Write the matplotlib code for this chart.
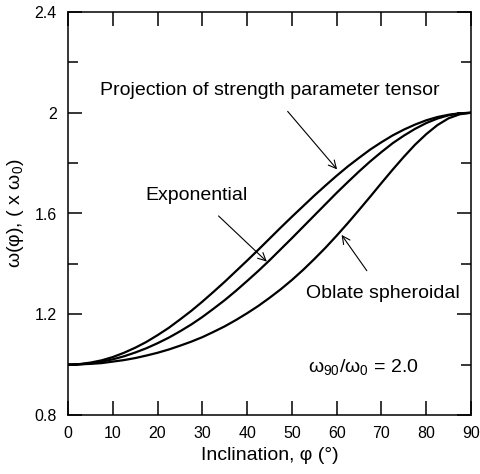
import numpy as np
from matplotlib import pyplot as plt

plt.rcParams['font.family'] = ['Liberation Sans', 'DejaVu Sans']
plt.rcParams['mathtext.default'] = 'regular'

# inclination (deg) and the three curves
phi = [0, 2.5, 5, 7.5, 10, 12.5, 15, 17.5, 20, 22.5, 25, 27.5, 30, 32.5, 35, 37.5,
       40, 42.5, 45, 47.5, 50, 52.5, 55, 57.5, 60, 62.5, 65, 67.5, 70, 72.5, 75,
       77.5, 80, 82.5, 85, 87.5, 90]
w_proj = [1.000, 1.002, 1.008, 1.017, 1.030, 1.047, 1.067, 1.090, 1.117, 1.146,
          1.179, 1.213, 1.250, 1.289, 1.329, 1.371, 1.413, 1.456, 1.500, 1.544,
          1.587, 1.629, 1.671, 1.711, 1.750, 1.787, 1.821, 1.854, 1.883, 1.910,
          1.933, 1.953, 1.970, 1.983, 1.992, 1.998, 2.000]
w_exp = [1.000, 1.001, 1.005, 1.012, 1.021, 1.033, 1.048, 1.065, 1.085, 1.107,
         1.132, 1.159, 1.189, 1.222, 1.256, 1.293, 1.332, 1.372, 1.414, 1.458,
         1.502, 1.547, 1.592, 1.637, 1.682, 1.725, 1.767, 1.807, 1.844, 1.879,
         1.909, 1.936, 1.959, 1.977, 1.990, 1.997, 2.000]
w_obl = [1.000, 1.001, 1.003, 1.006, 1.012, 1.018, 1.026, 1.036, 1.047, 1.060,
         1.075, 1.091, 1.109, 1.130, 1.152, 1.177, 1.204, 1.233, 1.265, 1.299,
         1.336, 1.376, 1.419, 1.464, 1.512, 1.562, 1.614, 1.667, 1.721, 1.774,
         1.825, 1.873, 1.915, 1.951, 1.978, 1.994, 2.000]

x_ticks = [0, 10, 20, 30, 40, 50, 60, 70, 80, 90]
y_ticks = [0.8, 1.2, 1.6, 2.0, 2.4]

fig = plt.figure(figsize=(4.81, 4.74), dpi=100)
ax = fig.add_axes([68/481, 59/474, 403/481, 403/474])

for w in (w_proj, w_exp, w_obl):
    ax.plot(phi, w, color='black', lw=1.6)

ax.set_xlim(0, 90)
ax.set_ylim(0.8, 2.4)
ax.set_xticks(x_ticks)
ax.set_yticks(y_ticks)
ax.set_yticklabels(['%g' % v for v in y_ticks])
ax.set_yticks(np.arange(1.0, 2.4, 0.4), minor=True)
ax.tick_params(which='both', direction='in', top=True, right=True, width=1.1, labelsize=11.5)
ax.tick_params(which='major', length=10)
ax.tick_params(which='minor', length=7)
ax.tick_params(axis='x', pad=8)
ax.tick_params(axis='y', pad=8)
for s in ax.spines.values():
    s.set_linewidth(1.1)

ax.set_xlabel('Inclination, φ (°)', fontsize=14, labelpad=4)
ax.set_ylabel('ω(φ), ( x ω$_0$)', fontsize=14, labelpad=6)

arr = dict(arrowstyle='->', color='black', lw=0.8, mutation_scale=14)
ax.annotate('Projection of strength parameter tensor', xy=(60.1, 1.775), xytext=(45.1, 2.088),
            ha='center', va='center', fontsize=14, arrowprops=dict(arr, shrinkA=9, shrinkB=0))
ax.annotate('Exponential', xy=(44.4, 1.409), xytext=(28.7, 1.673),
            ha='center', va='center', fontsize=14, arrowprops=dict(arr, shrinkA=10, shrinkB=0))
ax.annotate('Oblate spheroidal', xy=(61.1, 1.515), xytext=(70.3, 1.283),
            ha='center', va='center', fontsize=14, arrowprops=dict(arr, shrinkA=10, shrinkB=0))
ax.text(53.5, 0.99, 'ω$_{90}$/ω$_0$ = 2.0', ha='left', va='center', fontsize=14)

fig.savefig('out.png', dpi=100)
